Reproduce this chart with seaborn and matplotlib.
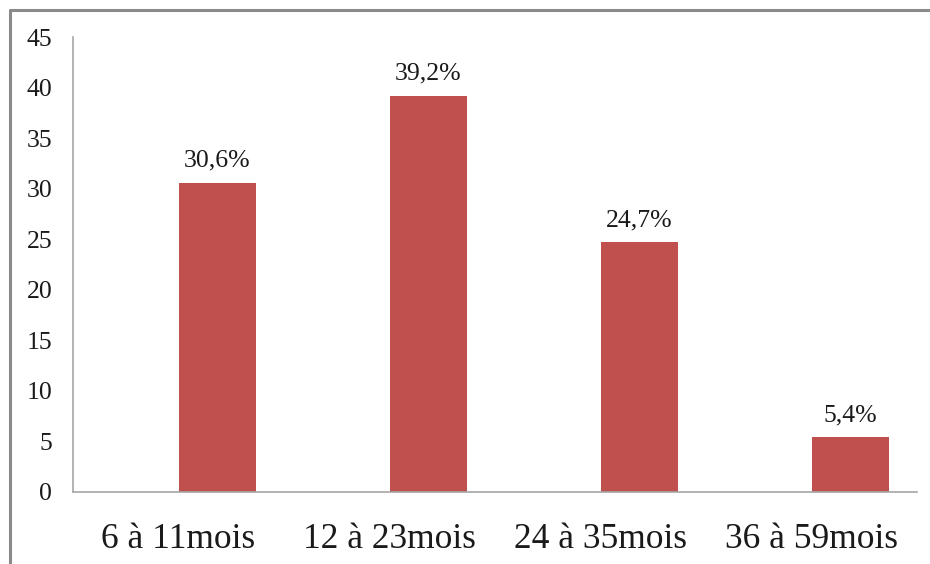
import matplotlib
matplotlib.use("Agg")
import matplotlib.pyplot as plt
import seaborn as sns
import pandas as pd
from matplotlib.lines import Line2D

categories = ["6 à 11mois", "12 à 23mois", "24 à 35mois", "36 à 59mois"]
values = [30.6, 39.2, 24.7, 5.4]
empty_series = [0, 0, 0, 0]
labels = ["30,6%", "39,2%", "24,7%", "5,4%"]
yticks = [0, 5, 10, 15, 20, 25, 30, 35, 40, 45]

sns.set_theme(style="white")
plt.rcParams["font.family"] = ["Liberation Serif", "DejaVu Serif"]

df = pd.DataFrame({
    "cat": categories * 2,
    "val": empty_series + values,
    "serie": ["vide"] * 4 + ["valeur"] * 4,
})

fig = plt.figure(figsize=(9.3, 5.64), dpi=100)
ax = fig.add_axes([73 / 930, 1 - 492 / 564, (917 - 73) / 930, (492 - 37) / 564])

sns.barplot(data=df, x="cat", y="val", hue="serie", order=categories,
            hue_order=["vide", "valeur"], palette=["#FFFFFF", "#C0504D"],
            width=0.73, saturation=1, legend=False, ax=ax, linewidth=0)

ax.bar_label(ax.containers[1], labels=labels, padding=8, fontsize=18.5, color="#1a1a1a")

ax.set_ylim(0, 45)
ax.set_xlim(-0.5, 3.5)
ax.set_yticks(yticks)
ax.set_xlabel("")
ax.set_ylabel("")
ax.tick_params(axis="y", length=0, pad=15, labelsize=18.5, labelcolor="#1a1a1a")
ax.tick_params(axis="x", length=0, pad=22, labelsize=25.5, labelcolor="#1a1a1a")

for side in ["top", "right"]:
    ax.spines[side].set_visible(False)
for side in ["left", "bottom"]:
    ax.spines[side].set_color("#A6A6A6")
    ax.spines[side].set_linewidth(1.2)

# outer frame (top and left edges visible)
fig.add_artist(Line2D([9.5 / 930, 1], [1 - 9.5 / 564, 1 - 9.5 / 564],
                      transform=fig.transFigure, color="#8A8A8A", linewidth=2.2))
fig.add_artist(Line2D([9.5 / 930, 9.5 / 930], [0, 1 - 9.5 / 564],
                      transform=fig.transFigure, color="#8A8A8A", linewidth=2.2))

fig.savefig("out.png", dpi=100)
